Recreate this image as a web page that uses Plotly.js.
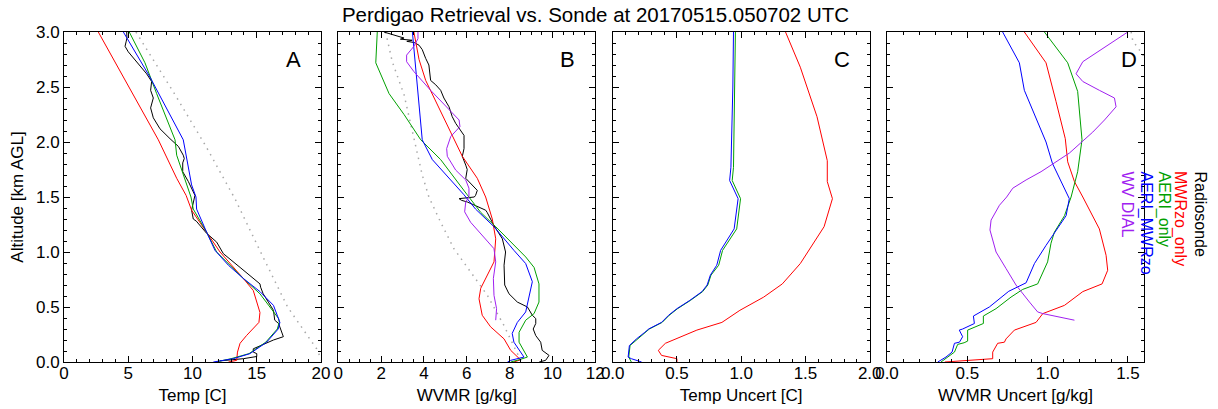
<!DOCTYPE html>
<html>
<head>
<meta charset="utf-8">
<script src="https://cdn.plot.ly/plotly-3.0.1.min.js"></script>
<style>html,body{margin:0;padding:0;background:#fff;}</style>
</head>
<body>
<div id="chart" style="width:1218px;height:409px;"></div>
<script>
// ---------- Panel A : Temperature [C] ----------
const tSondeAlt = [3.0, 2.945, 2.91, 2.87, 2.82, 2.73, 2.62, 2.55, 2.47, 2.40, 2.31, 2.22, 2.12, 2.03, 1.96, 1.88, 1.85, 1.81, 1.73, 1.64, 1.58, 1.515, 1.38, 1.30, 1.28, 1.17, 1.09, 0.985, 0.86, 0.71, 0.68, 0.62, 0.545, 0.47, 0.38, 0.35, 0.23, 0.20, 0.12, 0.09, 0.076, 0.05, 0.03, 0.01];
const tSondeVal = [4.88, 4.9, 4.83, 4.75, 5.0, 5.66, 6.43, 6.82, 6.74, 6.95, 6.74, 6.95, 7.47, 8.25, 8.9, 9.28, 9.36, 9.24, 9.24, 9.68, 9.93, 10.19, 9.93, 10.06, 10.3, 11.1, 11.88, 12.4, 13.7, 15.25, 15.3, 15.5, 15.9, 16.3, 16.4, 16.7, 17.07, 16.3, 14.73, 14.73, 15.0, 15.0, 13.95, 12.14];
const tMwrAlt = [3.0, 2.02, 1.67, 1.515, 1.38, 1.18, 1.0, 0.76, 0.65, 0.45, 0.36, 0.24, 0.17, 0.09, 0.015, 0.0];
const tMwrVal = [2.67, 7.34, 8.77, 9.5, 9.93, 11.1, 12.14, 13.95, 14.73, 15.25, 15.17, 14.2, 13.7, 13.5, 13.44, 12.8];
const tAeriAlt = [3.0, 2.72, 2.44, 2.22, 2.02, 1.88, 1.70, 1.50, 1.39, 1.18, 1.0, 0.88, 0.76, 0.62, 0.485, 0.395, 0.36, 0.30, 0.18, 0.076, 0.03, 0.0];
const tAeriVal = [5.08, 6.3, 7.21, 7.99, 8.64, 8.77, 9.28, 9.88, 10.06, 11.1, 11.88, 12.92, 13.95, 15.25, 16.16, 16.7, 16.75, 16.6, 15.7, 14.4, 13.0, 11.8];
const tBothAlt = [3.0, 2.87, 2.59, 2.02, 1.76, 1.61, 1.50, 1.39, 1.18, 1.015, 0.88, 0.76, 0.64, 0.515, 0.36, 0.30, 0.18, 0.076, 0.03, 0.0];
const tBothVal = [4.62, 5.27, 6.69, 9.28, 9.68, 9.93, 10.27, 10.32, 11.1, 11.75, 12.79, 13.95, 15.25, 16.3, 16.8, 16.67, 15.77, 14.47, 13.17, 11.62];
const tPriorAlt = [3.0, 2.43, 1.97, 1.485, 1.0, 0.5, 0.12, 0.0];
const tPriorVal = [5.6, 8.64, 11.0, 13.3, 15.3, 17.4, 19.66, 20.1];

// ---------- Panel B : WVMR [g/kg] ----------
const qSondeAlt = [3.0, 2.945, 2.935, 2.925, 2.915, 2.905, 2.88, 2.84, 2.76, 2.70, 2.56, 2.52, 2.47, 2.40, 2.32, 2.23, 2.17, 2.11, 2.06, 1.94, 1.87, 1.79, 1.75, 1.67, 1.62, 1.56, 1.515, 1.50, 1.485, 1.47, 1.455, 1.41, 1.38, 1.36, 1.24, 1.12, 1.0, 0.88, 0.70, 0.62, 0.545, 0.50, 0.425, 0.395, 0.35, 0.30, 0.24, 0.18, 0.106, 0.06, 0.015, 0.0];
const qSondeVal = [2.13, 3.07, 2.9, 3.45, 3.2, 3.53, 3.77, 3.92, 4.08, 4.23, 4.31, 4.55, 4.78, 4.93, 5.17, 5.32, 5.48, 5.71, 5.87, 5.87, 5.79, 5.95, 6.02, 5.95, 6.18, 6.49, 6.41, 6.35, 5.64, 5.75, 6.02, 6.49, 6.88, 6.95, 7.27, 7.66, 7.81, 7.74, 7.77, 7.97, 8.36, 8.83, 9.06, 9.22, 9.22, 9.1, 9.22, 9.45, 9.52, 9.84, 9.68, 9.38];
const qMwrAlt = [3.0, 2.75, 2.56, 2.37, 2.12, 1.87, 1.67, 1.50, 1.30, 1.12, 0.91, 0.79, 0.67, 0.575, 0.425, 0.32, 0.21, 0.106, 0.045, 0.02, 0.0];
const qMwrVal = [3.53, 3.77, 4.08, 4.55, 5.17, 5.79, 6.49, 6.88, 7.19, 7.35, 7.27, 6.96, 6.65, 6.57, 6.72, 7.11, 7.74, 8.05, 8.36, 8.51, 8.2];
const qAeriAlt = [3.0, 2.72, 2.44, 2.25, 2.02, 1.84, 1.52, 1.36, 1.23, 1.09, 0.955, 0.86, 0.71, 0.545, 0.44, 0.38, 0.27, 0.18, 0.106, 0.045, 0.02, 0.0];
const qAeriVal = [1.82, 1.75, 2.37, 3.07, 3.85, 4.78, 6.02, 6.65, 7.35, 8.05, 8.75, 9.14, 9.37, 9.37, 9.14, 8.75, 8.44, 8.44, 8.67, 8.83, 8.44, 8.05];
const qBothAlt = [3.0, 2.02, 1.84, 1.69, 1.52, 1.39, 1.23, 1.015, 0.895, 0.73, 0.575, 0.455, 0.36, 0.26, 0.18, 0.09, 0.045, 0.015, 0.0];
const qBothVal = [3.46, 3.92, 4.39, 5.09, 5.87, 6.41, 7.27, 8.2, 8.75, 9.06, 8.9, 8.75, 8.36, 8.12, 8.2, 8.51, 8.67, 8.05, 7.9];
const qDialAlt = [3.0, 2.94, 2.87, 2.79, 2.73, 2.64, 2.47, 2.29, 2.20, 2.14, 2.05, 1.94, 1.87, 1.745, 1.655, 1.58, 1.50, 1.455, 1.365, 1.27, 1.135, 1.03, 0.91, 0.76, 0.606, 0.485, 0.38];
const qDialVal = [3.72, 3.72, 3.53, 3.19, 3.19, 3.53, 4.31, 5.17, 5.64, 5.68, 5.25, 5.06, 5.09, 5.48, 5.95, 6.1, 6.1, 5.95, 5.9, 6.18, 6.8, 7.27, 7.35, 7.24, 7.27, 7.39, 7.35];
const qPriorAlt = [3.0, 2.73, 2.43, 2.03, 1.70, 1.50, 1.27, 1.03, 0.82, 0.606, 0.33, 0.12, 0.0];
const qPriorVal = [2.21, 2.52, 3.07, 3.53, 3.92, 4.23, 4.78, 5.4, 6.18, 6.96, 7.74, 8.28, 8.55];

// ---------- Panel C : Temp uncertainty [C] ----------
const tuMwrAlt = [3.0, 2.68, 2.23, 1.83, 1.64, 1.485, 1.23, 1.08, 0.895, 0.71, 0.59, 0.47, 0.36, 0.29, 0.23, 0.17, 0.106, 0.06, 0.03, 0.0];
const tuMwrVal = [1.345, 1.46, 1.59, 1.67, 1.67, 1.71, 1.645, 1.565, 1.46, 1.32, 1.175, 0.99, 0.85, 0.655, 0.525, 0.41, 0.355, 0.38, 0.50, 0.50];
const tuAeriAlt = [3.0, 2.5, 1.77, 1.65, 1.485, 1.21, 1.015, 0.88, 0.79, 0.70, 0.64, 0.56, 0.485, 0.425, 0.36, 0.30, 0.27, 0.21, 0.15, 0.045, 0.0];
const tuAeriVal = [0.955, 0.95, 0.94, 0.93, 0.995, 0.965, 0.855, 0.825, 0.765, 0.74, 0.70, 0.605, 0.505, 0.44, 0.385, 0.285, 0.255, 0.19, 0.135, 0.125, 0.145];
const tuBothAlt = [3.0, 2.5, 1.77, 1.65, 1.485, 1.21, 1.015, 0.88, 0.79, 0.70, 0.64, 0.56, 0.485, 0.425, 0.36, 0.30, 0.27, 0.21, 0.15, 0.045, 0.03, 0.0];
const tuBothVal = [0.94, 0.935, 0.92, 0.91, 0.976, 0.945, 0.84, 0.81, 0.76, 0.735, 0.695, 0.60, 0.50, 0.435, 0.38, 0.28, 0.25, 0.185, 0.13, 0.12, 0.145, 0.225];

// ---------- Panel D : WVMR uncertainty [g/kg] ----------
const quMwrAlt = [3.0, 2.72, 2.37, 2.03, 1.82, 1.64, 1.50, 1.21, 0.97, 0.834, 0.71, 0.64, 0.515, 0.44, 0.36, 0.29, 0.21, 0.18, 0.17, 0.09, 0.03, 0.015, 0.0];
const quMwrVal = [0.855, 0.99, 1.052, 1.11, 1.125, 1.167, 1.219, 1.322, 1.364, 1.374, 1.339, 1.219, 1.105, 0.97, 0.928, 0.793, 0.741, 0.731, 0.689, 0.658, 0.658, 0.492, 0.36];
const quAeriAlt = [3.0, 2.72, 2.46, 2.02, 1.73, 1.50, 1.33, 1.18, 1.08, 0.91, 0.71, 0.66, 0.59, 0.485, 0.418, 0.35, 0.29, 0.19, 0.175, 0.16, 0.09, 0.045, 0.0];
const quAeriVal = [0.98, 1.125, 1.187, 1.214, 1.187, 1.146, 1.105, 1.042, 1.021, 1.0, 0.938, 0.845, 0.772, 0.679, 0.6, 0.6, 0.502, 0.502, 0.48, 0.44, 0.42, 0.378, 0.336];
const quBothAlt = [3.0, 2.72, 2.47, 2.215, 2.0, 1.805, 1.485, 1.33, 1.15, 1.06, 0.895, 0.72, 0.643, 0.50, 0.418, 0.35, 0.30, 0.29, 0.23, 0.18, 0.17, 0.09, 0.045, 0.0];
const quBothVal = [0.72, 0.824, 0.855, 0.928, 0.99, 1.03, 1.135, 1.115, 1.03, 0.99, 0.918, 0.866, 0.758, 0.637, 0.538, 0.544, 0.471, 0.45, 0.471, 0.451, 0.42, 0.405, 0.367, 0.316];
const quDialAlt = [3.0, 2.82, 2.73, 2.62, 2.55, 2.47, 2.40, 2.32, 2.20, 2.09, 1.90, 1.73, 1.655, 1.58, 1.50, 1.425, 1.29, 1.20, 1.0, 0.85, 0.70, 0.545, 0.455, 0.44, 0.38];
const quDialVal = [1.499, 1.312, 1.219, 1.177, 1.219, 1.322, 1.416, 1.426, 1.354, 1.281, 1.136, 0.959, 0.866, 0.783, 0.745, 0.70, 0.648, 0.641, 0.679, 0.741, 0.803, 0.887, 0.938, 0.97, 1.167];
const quPriorAlt = [3.0, 2.92, 2.86, 2.80, 2.72];
const quPriorVal = [1.52, 1.53, 1.56, 1.59, 1.62];

// ---------- Labels ----------
const chartTitle = 'Perdigao Retrieval vs. Sonde at 20170515.050702 UTC';
const xTitles = ['Temp [C]', 'WVMR [g/kg]', 'Temp Uncert [C]', 'WVMR Uncert [g/kg]'];
const yTitle = 'Altitude [km AGL]';
const panelLetters = ['A', 'B', 'C', 'D'];
const legendNames = ['Radiosonde', 'MWRzo_only', 'AERI_only', 'AERI_MWRzo', 'WV DIAL'];
const legendColors = ['#000000', '#ff0000', '#00a000', '#0000ff', '#a020f0'];

const C = {sonde: legendColors[0], mwr: legendColors[1], aeri: legendColors[2], both: legendColors[3], dial: legendColors[4], prior: '#a8a8a8'};

function line(xv, yv, color, xa, ya, dotted) {
  return {
    x: xv, y: yv, xaxis: xa, yaxis: ya, type: 'scatter', mode: 'lines',
    line: dotted ? {color: color, width: 1.5, dash: '1.5px,5px'} : {color: color, width: 1},
    hoverinfo: 'skip', showlegend: false
  };
}

const data = [
  line(tPriorVal, tPriorAlt, C.prior, 'x', 'y', true),
  line(tSondeVal, tSondeAlt, C.sonde, 'x', 'y'),
  line(tMwrVal, tMwrAlt, C.mwr, 'x', 'y'),
  line(tAeriVal, tAeriAlt, C.aeri, 'x', 'y'),
  line(tBothVal, tBothAlt, C.both, 'x', 'y'),

  line(qPriorVal, qPriorAlt, C.prior, 'x2', 'y2', true),
  line(qSondeVal, qSondeAlt, C.sonde, 'x2', 'y2'),
  line(qMwrVal, qMwrAlt, C.mwr, 'x2', 'y2'),
  line(qAeriVal, qAeriAlt, C.aeri, 'x2', 'y2'),
  line(qBothVal, qBothAlt, C.both, 'x2', 'y2'),
  line(qDialVal, qDialAlt, C.dial, 'x2', 'y2'),

  line(tuMwrVal, tuMwrAlt, C.mwr, 'x3', 'y3'),
  line(tuAeriVal, tuAeriAlt, C.aeri, 'x3', 'y3'),
  line(tuBothVal, tuBothAlt, C.both, 'x3', 'y3'),

  line(quPriorVal, quPriorAlt, C.prior, 'x4', 'y4', true),
  line(quMwrVal, quMwrAlt, C.mwr, 'x4', 'y4'),
  line(quAeriVal, quAeriAlt, C.aeri, 'x4', 'y4'),
  line(quBothVal, quBothAlt, C.both, 'x4', 'y4'),
  line(quDialVal, quDialAlt, C.dial, 'x4', 'y4')
];

const FONT = 'Liberation Sans, Arial, Helvetica, sans-serif';
const PW = 1080; // plot-area width in px
function dom(a, b) { return [(a - 64) / PW, (b - 64) / PW]; }
const domains = [dom(64, 321), dom(338.3, 595.3), dom(612.7, 869.7), dom(887, 1144)];

const axBase = {
  showline: true, linecolor: '#000', linewidth: 1, mirror: 'ticks',
  ticks: 'inside', ticklen: 6, tickwidth: 1, tickcolor: '#000',
  showgrid: false, zeroline: false, fixedrange: true,
  tickfont: {family: FONT, size: 17, color: '#000'}
};

function xaxis(i, range, dtick, minor, fmt) {
  return Object.assign({}, axBase, {
    domain: domains[i], range: range, tick0: 0, dtick: dtick, tickformat: fmt,
    anchor: i === 0 ? 'y' : 'y' + (i + 1),
    ticklabelstandoff: -4,
    minor: {ticks: 'inside', ticklen: 3, tickwidth: 1, tickcolor: '#000', dtick: minor, tick0: 0, showgrid: false},
    title: {text: xTitles[i], font: {family: FONT, size: 17, color: '#000'}, standoff: 6}
  });
}
function yaxis(i) {
  return Object.assign({}, axBase, {
    domain: [0, 1], range: [0, 3], tick0: 0, dtick: 0.5, tickformat: '.1f',
    anchor: i === 0 ? 'x' : 'x' + (i + 1),
    showticklabels: i === 0,
    minor: {ticks: 'inside', ticklen: 3, tickwidth: 1, tickcolor: '#000', dtick: 0.1, tick0: 0, showgrid: false},
    title: i === 0 ? {text: yTitle, font: {family: FONT, size: 17, color: '#000'}, standoff: 8} : {text: ''}
  });
}

const annotations = [];
const letterX = [0.892, 0.891, 0.892, 0.943];
panelLetters.forEach((L, i) => {
  annotations.push({
    text: L, xref: (i === 0 ? 'x' : 'x' + (i + 1)) + ' domain', yref: (i === 0 ? 'y' : 'y' + (i + 1)) + ' domain',
    x: letterX[i], y: 0.918, xanchor: 'center', yanchor: 'middle', showarrow: false,
    font: {family: FONT, size: 22, color: '#000'}
  });
});
const legendX = [1200.5, 1180.5, 1163.5, 1146, 1127.5];
legendNames.forEach((n, i) => {
  annotations.push({
    text: n, xref: 'paper', yref: 'paper',
    x: (legendX[i] - 64) / PW, y: (362 - 170) / 330, xanchor: 'center', yanchor: 'top',
    textangle: 90, showarrow: false, borderpad: 0,
    font: {family: FONT, size: 16, color: legendColors[i]}
  });
});

const layout = {
  width: 1218, height: 409,
  margin: {l: 64, r: 74, t: 32, b: 47, pad: 0},
  paper_bgcolor: '#fff', plot_bgcolor: '#fff',
  showlegend: false,
  font: {family: FONT, size: 17, color: '#000'},
  title: {text: chartTitle, x: 595.5 / 1218, xanchor: 'center', xref: 'container', y: 1 - 15 / 409, yanchor: 'middle', yref: 'container',
          font: {family: FONT, size: 20.5, color: '#000'}},
  xaxis: xaxis(0, [0, 20], 5, 1, 'd'),
  xaxis2: xaxis(1, [0, 12], 2, 0.5, 'd'),
  xaxis3: xaxis(2, [0, 2], 0.5, 0.1, '.1f'),
  xaxis4: xaxis(3, [0, 1.6], 0.5, 0.1, '.1f'),
  yaxis: yaxis(0), yaxis2: yaxis(1), yaxis3: yaxis(2), yaxis4: yaxis(3),
  annotations: annotations
};

Plotly.newPlot('chart', data, layout, {staticPlot: true, displayModeBar: false});
</script>
</body>
</html>
